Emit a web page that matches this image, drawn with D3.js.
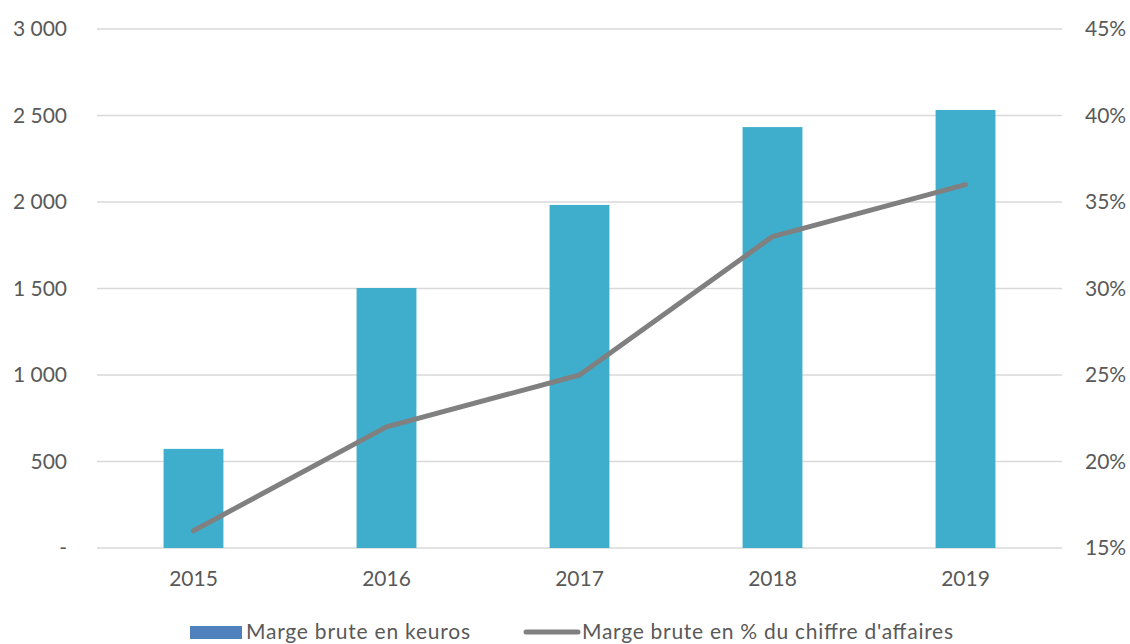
<!DOCTYPE html>
<html><head><meta charset="utf-8">
<script src="https://cdn.jsdelivr.net/npm/d3@7"></script>
<style>body{margin:0;background:#fff}text{font-family:Lato,"Open Sans",sans-serif;fill:#595959}</style>
</head><body><svg id="c" width="1130" height="644"></svg>
<script>
const years = ["2015","2016","2017","2018","2019"];
const margeKeuros = [573, 1503, 1983, 2433, 2532];
const margePct = [0.16, 0.22, 0.25, 0.33, 0.36];
const leftTicks = [0, 500, 1000, 1500, 2000, 2500, 3000];
const rightTicks = [0.15, 0.20, 0.25, 0.30, 0.35, 0.40, 0.45];
const seriesNames = ["Marge brute en keuros", "Marge brute en % du chiffre d'affaires"];

const svg = d3.select("#c");
const L = 97, R = 1062, T = 29, B = 548;
const FS = "21px";
const x = d3.scaleBand().domain(years).range([L, R]).paddingInner(0.69).paddingOuter(0.345);
const y = d3.scaleLinear().domain([0, 3000]).range([B, T]);
const y2 = d3.scaleLinear().domain([0.15, 0.45]).range([B, T]);
const fmtL = d => d === 0 ? "-" : d3.format(",")(d).replace(/,/g, " ");

svg.append("g").selectAll("line").data(leftTicks).join("line")
  .attr("x1", L).attr("x2", R).attr("y1", d => y(d)).attr("y2", d => y(d))
  .attr("stroke", "#d9d9d9").attr("stroke-width", 1.3);

svg.append("g").selectAll("rect").data(years).join("rect")
  .attr("x", d => x(d)).attr("width", x.bandwidth())
  .attr("y", (d, i) => y(margeKeuros[i])).attr("height", (d, i) => B - y(margeKeuros[i]))
  .attr("fill", "#3eaecc");

const line = d3.line().x((d, i) => x(years[i]) + x.bandwidth() / 2).y(d => y2(d));
svg.append("path").datum(margePct).attr("d", line).attr("fill", "none")
  .attr("stroke", "#808080").attr("stroke-width", 5).attr("stroke-linecap", "round").attr("stroke-linejoin", "round");

svg.append("g").selectAll("text").data(leftTicks).join("text")
  .attr("x", 67).attr("y", d => y(d)).attr("dy", "0.35em").attr("text-anchor", "end")
  .style("font-size", FS).text(fmtL);
svg.append("g").selectAll("text").data(rightTicks).join("text")
  .attr("x", 1085).attr("y", d => y2(d)).attr("dy", "0.35em")
  .style("font-size", FS).text(d => d3.format(".0%")(d));
svg.append("g").selectAll("text").data(years).join("text")
  .attr("x", d => x(d) + x.bandwidth() / 2).attr("y", 579).attr("dy", "0.35em").attr("text-anchor", "middle")
  .style("font-size", FS).text(d => d);

const lg = svg.append("g");
lg.append("rect").attr("x", 190).attr("y", 626).attr("width", 52).attr("height", 13).attr("fill", "#4f81bd");
lg.append("text").attr("x", 246).attr("y", 632).attr("dy", "0.35em").style("font-size", FS)
  .attr("textLength", 224).attr("lengthAdjust", "spacing").text(seriesNames[0]);
lg.append("line").attr("x1", 526).attr("x2", 578).attr("y1", 632).attr("y2", 632)
  .attr("stroke", "#808080").attr("stroke-width", 5).attr("stroke-linecap", "round");
lg.append("text").attr("x", 582).attr("y", 632).attr("dy", "0.35em").style("font-size", FS)
  .attr("textLength", 371).attr("lengthAdjust", "spacing").text(seriesNames[1]);
</script></body></html>
